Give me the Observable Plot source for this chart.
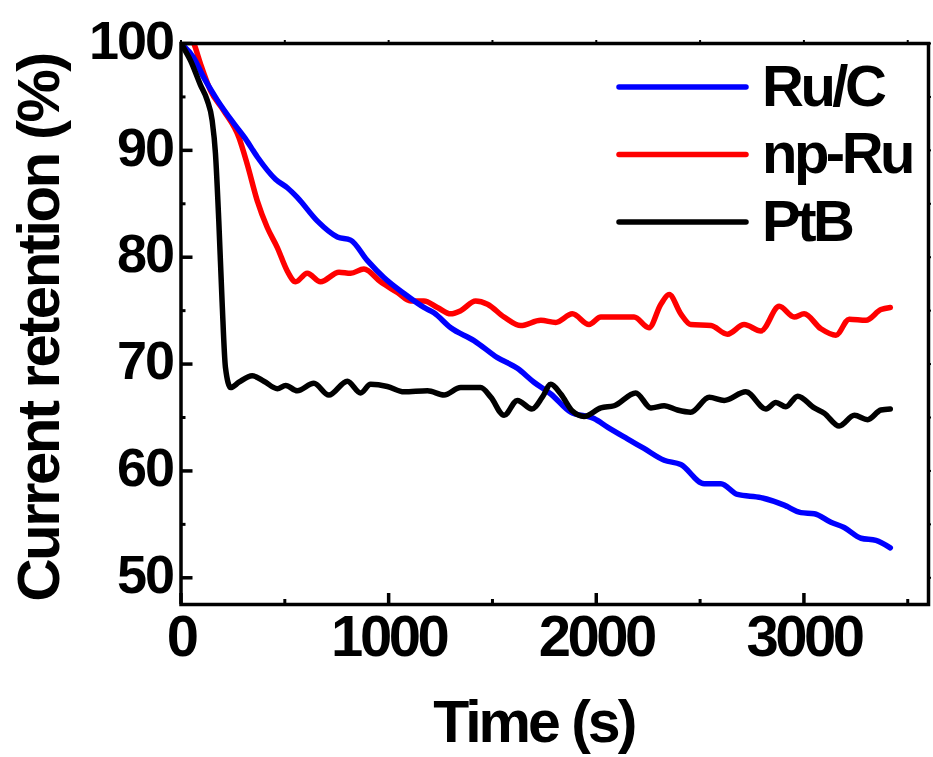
<!DOCTYPE html>
<html><head><meta charset="utf-8">
<script src="https://cdn.jsdelivr.net/npm/d3@7"></script>
<script src="https://cdn.jsdelivr.net/npm/@observablehq/plot@0.6"></script>
<style>
html,body{margin:0;padding:0;background:#fff;}
#chart{width:933px;height:757px;}
svg text{font-family:"Liberation Sans",Arial,Helvetica,sans-serif;font-weight:bold;}
</style>
</head><body><div id="chart"></div>
<script>
// ---- data ----
const seriesNames = ["Ru/C", "np-Ru", "PtB"];
const seriesColors = ["#0000ff", "#ff0000", "#000000"];

const ruT = [0,60,110,175,255,310,367,455,512,560,656,753,817,897,977,1074,1170,1218,1299,1411,1524,1620,1700,1781,1877,1989,2054,2150,2230,2327,2407,2520,2600,2680,2793,2905,2986,3050,3130,3194,3275,3347,3416];
const ruV = [100,98.7,96.8,94.7,92.5,91.1,89.4,87.3,86.5,85.6,83.4,81.9,81.6,79.7,78.1,76.6,75.3,74.8,73.4,72.2,70.6,69.6,68.3,67.2,65.5,64.9,64.1,63.0,62.1,61.0,60.6,58.8,58.8,57.8,57.5,56.8,56.1,56.0,55.2,54.7,53.7,53.5,52.8];

const npT = [0,62,94,142,206,279,319,367,415,464,512,552,608,672,761,817,881,961,1042,1106,1170,1235,1299,1347,1419,1476,1556,1636,1733,1805,1885,1965,2022,2102,2182,2254,2311,2351,2407,2455,2552,2632,2712,2793,2881,2953,3001,3082,3154,3218,3299,3371,3416];
const npV = [101.5,100,98.1,95.6,93.7,91.2,88.7,85.3,82.8,80.9,78.7,77.7,78.5,77.7,78.6,78.5,78.9,77.7,76.7,75.9,75.9,75.3,74.7,75.0,75.9,75.6,74.4,73.6,74.1,73.9,74.7,73.7,74.4,74.4,74.4,73.4,75.6,76.5,74.7,73.7,73.6,72.8,73.7,73.1,75.4,74.4,74.7,73.3,72.7,74.2,74.1,75.1,75.3];

const ptT = [0,46,94,126,150,166,182,198,214,239,279,343,399,464,504,560,640,712,801,865,913,994,1074,1187,1267,1347,1443,1492,1556,1620,1690,1740,1781,1829,1885,1941,2022,2086,2190,2263,2327,2391,2455,2544,2616,2720,2817,2865,2913,2970,3050,3098,3170,3243,3307,3371,3416];
const ptV = [100,98.4,96.1,94.7,92.8,89.7,83.4,75.8,69.7,67.8,68.3,68.9,68.4,67.7,68.0,67.5,68.2,67.1,68.4,67.3,68.1,67.9,67.4,67.5,67.1,67.8,67.8,66.9,65.2,66.6,65.8,66.9,68.1,67.2,65.6,65.1,65.9,66.1,67.3,65.9,66.1,65.7,65.5,66.9,66.6,67.4,65.8,66.4,66.0,67.0,65.9,65.4,64.2,65.2,64.8,65.7,65.8];

const xTicks = [0, 1000, 2000, 3000];
const xMinor = [500, 1500, 2500, 3500];
const yTicks = [50, 60, 70, 80, 90, 100];
const yMinor = [55, 65, 75, 85, 95];
const xLabel = "Time (s)";
const yLabel = "Current retention (%)";

// ---- build rows ----
const rows = (T, V, s) => T.map((t, i) => ({series: s, t, v: V[i]}));
const ru = rows(ruT, ruV, seriesNames[0]);
const np = rows(npT, npV, seriesNames[1]);
const pt = rows(ptT, ptV, seriesNames[2]);

const W = 933, H = 757;
const mL = 180.5, mR = 5, mT = 43, mB = 153;
const fw = W - mL - mR, fh = H - mT - mB;

const chart = Plot.plot({
  width: W, height: H,
  marginLeft: mL, marginRight: mR, marginTop: mT, marginBottom: mB,
  x: {domain: [0, 3600], axis: null},
  y: {domain: [47.5, 100], axis: null},
  color: {domain: seriesNames, range: seriesColors},
  marks: [
    Plot.line(np, {x: "t", y: "v", stroke: "series", strokeWidth: 5.5, curve: "monotone-x", clip: true}),
    Plot.line(ru, {x: "t", y: "v", stroke: "series", strokeWidth: 5.5, curve: "monotone-x", clip: true}),
    Plot.line(pt, {x: "t", y: "v", stroke: "series", strokeWidth: 5.5, curve: "monotone-x", clip: true}),
    // inward ticks on bottom and left
    Plot.tickX(xTicks, {x: d => d, insetTop: fh - 11, strokeWidth: 3.5}),
    Plot.tickX(xMinor, {x: d => d, insetTop: fh - 5, strokeWidth: 3}),
    Plot.tickY(yTicks, {y: d => d, insetRight: fw - 12, strokeWidth: 3.5}),
    Plot.tickY(yMinor, {y: d => d, insetRight: fw - 5, strokeWidth: 3}),
    // tiny outward ticks on top and right
    Plot.tickX(xTicks.concat(xMinor), {x: d => d, insetTop: -3, insetBottom: fh, strokeWidth: 2}),
    Plot.tickY(yTicks.concat(yMinor), {y: d => d, insetRight: -3, insetLeft: fw, strokeWidth: 2}),
    Plot.frame({stroke: "black", strokeWidth: 3.5}),
    // tick labels
    Plot.text(xTicks, {x: d => d, text: d => String(d), frameAnchor: "bottom", lineAnchor: "top", dy: 10, fontSize: 58, fill: "black"}),
    Plot.text(yTicks, {y: d => d, text: d => String(d), frameAnchor: "left", textAnchor: "end", lineAnchor: "middle", dx: -8, dy: -2, fontSize: 54, fill: "black"}),
    // axis titles
    Plot.text([xLabel], {text: d => d, frameAnchor: "bottom", textAnchor: "middle", lineAnchor: "top", dx: -21, dy: 96, fontSize: 59, fill: "black"}),
    Plot.text([yLabel], {text: d => d, frameAnchor: "left", textAnchor: "middle", lineAnchor: "middle", rotate: -90, dx: -141, dy: 4, fontSize: 60, fill: "black"})
  ]
});
document.getElementById("chart").appendChild(chart);

const svg = d3.select(chart);
// letter spacing per font size (compressed look of the original)
const spacing = {"58": "-3.5px", "54": "-2px", "59": "-3px", "60": "-2.5px"};
svg.selectAll("g[font-size]").each(function() {
  const fs = this.getAttribute("font-size");
  if (spacing[fs]) d3.select(this).selectAll("text").style("letter-spacing", spacing[fs]);
});

// legend (inside the frame, top right)
const fx1 = W - mR, fy0 = mT;
const leg = svg.append("g");
seriesNames.forEach((name, i) => {
  const ly = fy0 + 44 + i * 67.5;
  leg.append("line")
    .attr("x1", fx1 - 309).attr("x2", fx1 - 182)
    .attr("y1", ly).attr("y2", ly)
    .attr("stroke", seriesColors[i]).attr("stroke-width", 5.5)
    .attr("stroke-linecap", "round");
  leg.append("text")
    .attr("x", fx1 - 166).attr("y", ly + 18.5)
    .attr("font-size", 58)
    .attr("text-anchor", "start")
    .style("letter-spacing", "-3.5px")
    .attr("fill", "black")
    .text(name);
});
</script>
</body></html>
